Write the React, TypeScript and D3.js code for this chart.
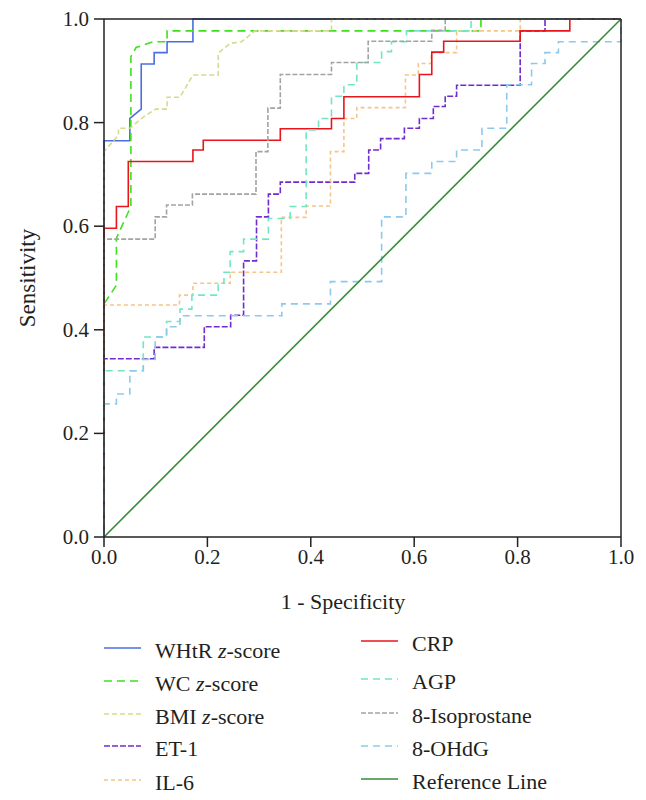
import React from "react";
import * as d3 from "d3";

type P = [number, number];

const whtr: P[] = [[0,0],[0,0.765],[0.05,0.765],[0.05,0.808],[0.072,0.826],[0.072,0.913],[0.097,0.913],[0.097,0.935],[0.122,0.935],[0.122,0.956],[0.172,0.956],[0.172,1],[1,1]];
const wc: P[] = [[0,0],[0,0.45],[0.024,0.486],[0.024,0.577],[0.052,0.638],[0.052,0.927],[0.062,0.945],[0.095,0.956],[0.122,0.956],[0.122,0.977],[0.729,0.977],[0.729,1],[1,1]];
const bmi: P[] = [[0,0],[0,0.744],[0.028,0.776],[0.028,0.789],[0.05,0.789],[0.075,0.81],[0.1,0.826],[0.122,0.826],[0.122,0.849],[0.147,0.849],[0.172,0.892],[0.221,0.892],[0.221,0.934],[0.244,0.953],[0.266,0.956],[0.292,0.977],[0.44,0.977],[0.44,1],[1,1]];
const et1: P[] = [[0,0],[0,0.344],[0.097,0.344],[0.097,0.366],[0.194,0.366],[0.194,0.406],[0.245,0.406],[0.245,0.428],[0.27,0.428],[0.27,0.533],[0.295,0.533],[0.295,0.618],[0.318,0.618],[0.318,0.662],[0.341,0.662],[0.341,0.685],[0.485,0.685],[0.485,0.702],[0.512,0.702],[0.512,0.747],[0.535,0.747],[0.535,0.769],[0.581,0.769],[0.581,0.789],[0.61,0.789],[0.61,0.808],[0.637,0.808],[0.637,0.831],[0.66,0.831],[0.66,0.851],[0.682,0.851],[0.682,0.872],[0.805,0.872],[0.805,0.977],[0.853,0.977],[0.853,1],[1,1]];
const il6: P[] = [[0,0],[0,0.448],[0.146,0.448],[0.146,0.467],[0.172,0.467],[0.172,0.49],[0.244,0.49],[0.244,0.511],[0.343,0.511],[0.343,0.617],[0.391,0.617],[0.391,0.639],[0.438,0.639],[0.438,0.744],[0.464,0.744],[0.464,0.808],[0.489,0.808],[0.489,0.829],[0.583,0.829],[0.583,0.892],[0.608,0.892],[0.608,0.914],[0.633,0.914],[0.633,0.935],[0.682,0.935],[0.682,0.977],[0.805,0.977],[0.805,1],[1,1]];
const crp: P[] = [[0,0],[0,0.596],[0.024,0.596],[0.024,0.638],[0.047,0.638],[0.047,0.725],[0.172,0.725],[0.172,0.747],[0.192,0.747],[0.192,0.766],[0.341,0.766],[0.341,0.788],[0.44,0.788],[0.44,0.808],[0.464,0.808],[0.464,0.85],[0.61,0.85],[0.61,0.893],[0.634,0.893],[0.634,0.936],[0.657,0.936],[0.657,0.957],[0.805,0.957],[0.805,0.977],[0.901,0.977],[0.901,1],[1,1]];
const agp: P[] = [[0,0],[0,0.321],[0.076,0.321],[0.076,0.386],[0.121,0.386],[0.121,0.416],[0.147,0.416],[0.147,0.44],[0.17,0.44],[0.17,0.467],[0.221,0.467],[0.221,0.49],[0.232,0.49],[0.232,0.511],[0.244,0.511],[0.244,0.551],[0.27,0.551],[0.27,0.575],[0.318,0.575],[0.318,0.615],[0.36,0.615],[0.36,0.638],[0.391,0.638],[0.391,0.786],[0.415,0.786],[0.415,0.808],[0.44,0.808],[0.44,0.851],[0.464,0.851],[0.464,0.873],[0.489,0.873],[0.489,0.916],[0.537,0.916],[0.537,0.937],[0.556,0.937],[0.556,0.956],[0.585,0.956],[0.585,0.977],[0.71,0.977],[0.71,1],[1,1]];
const isoprostane: P[] = [[0,0],[0,0.575],[0.099,0.575],[0.099,0.618],[0.121,0.618],[0.121,0.641],[0.171,0.641],[0.171,0.662],[0.294,0.662],[0.294,0.744],[0.317,0.744],[0.317,0.828],[0.341,0.828],[0.341,0.893],[0.44,0.893],[0.44,0.916],[0.511,0.916],[0.511,0.957],[0.634,0.957],[0.634,0.978],[0.66,0.978],[0.66,1],[1,1]];
const ohdg: P[] = [[0,0],[0,0.257],[0.024,0.257],[0.024,0.276],[0.05,0.276],[0.05,0.321],[0.076,0.321],[0.076,0.343],[0.099,0.343],[0.099,0.386],[0.121,0.386],[0.121,0.406],[0.147,0.406],[0.147,0.427],[0.344,0.427],[0.344,0.45],[0.438,0.45],[0.438,0.493],[0.537,0.493],[0.537,0.618],[0.584,0.618],[0.584,0.702],[0.634,0.702],[0.634,0.725],[0.682,0.725],[0.682,0.747],[0.731,0.747],[0.731,0.789],[0.779,0.789],[0.779,0.873],[0.827,0.873],[0.827,0.914],[0.853,0.914],[0.853,0.935],[0.879,0.935],[0.879,0.956],[1,0.956],[1,1]];
const refLine: P[] = [[0,0],[1,1]];

const seriesNames = ["WHtR z-score","WC z-score","BMI z-score","ET-1","IL-6","CRP","AGP","8-Isoprostane","8-OHdG","Reference Line"];
const seriesData = [whtr, wc, bmi, et1, il6, crp, agp, isoprostane, ohdg, refLine];
const seriesColors = ["#4a6ee0","#3fe01e","#d6da8e","#6f2ccf","#f8c487","#e8151c","#72e6c3","#a3a3a3","#8dc9ec","#3a8a3a"];
const seriesDash = ["none","8,5","5,3","6,2","4,3","none","7,5","5,2","7,5","none"];
const xTicks = [0, 0.2, 0.4, 0.6, 0.8, 1.0];
const yTicks = [0, 0.2, 0.4, 0.6, 0.8, 1.0];

const FONT = "'Liberation Serif', 'Times New Roman', serif";
const LABEL_SIZE = 22;

function Label({ name, x, y }: { name: string; x: number; y: number }) {
  const m = name.match(/^(.*) z-score$/);
  if (m) {
    return (
      <text x={x} y={y} fontSize={LABEL_SIZE} fontFamily={FONT} fill="#231f20" dominantBaseline="central">
        {m[1]} <tspan fontStyle="italic">z</tspan>-score
      </text>
    );
  }
  return (
    <text x={x} y={y} fontSize={LABEL_SIZE} fontFamily={FONT} fill="#231f20" dominantBaseline="central">
      {name}
    </text>
  );
}

export default function App() {
  const x = d3.scaleLinear().domain([0, 1]).range([104, 621]);
  const y = d3.scaleLinear().domain([0, 1]).range([537, 19]);
  const line = d3.line<P>().x((d) => x(d[0])).y((d) => y(d[1]));

  const leftRows = [650, 683, 716, 748, 782];
  const rightRows = [643, 681, 715, 748, 781];

  return (
    <svg width={646} height={800} style={{ position: "absolute", left: 0, top: 0, background: "#fff" }}>
      <rect x={0} y={0} width={646} height={800} fill="#fff" />
      {seriesData.map((d, i) => (
        <path key={i} d={line(d) || ""} fill="none" stroke={seriesColors[i]} strokeWidth={1.6}
          strokeDasharray={seriesDash[i]} />
      ))}
      <line x1={x(0)} x2={x(1)} y1={y(1)} y2={y(1)} stroke="#222" strokeWidth={1.5} />
      <line x1={x(1)} x2={x(1)} y1={y(0)} y2={y(1)} stroke="#222" strokeWidth={1.5} />
      <line x1={x(0)} x2={x(1)} y1={y(0)} y2={y(0)} stroke="#222" strokeWidth={1.5} />
      <line x1={x(0)} x2={x(0)} y1={y(0)} y2={y(1)} stroke="#222" strokeWidth={1.5} />
      {xTicks.map((t) => (
        <g key={"x" + t}>
          <line x1={x(t)} x2={x(t)} y1={y(0)} y2={y(0) + 10} stroke="#222" strokeWidth={1.5} />
          <text x={x(t)} y={y(0) + 27} textAnchor="middle" fontSize={21} fontFamily={FONT} fill="#231f20">
            {d3.format(".1f")(t)}
          </text>
        </g>
      ))}
      {yTicks.map((t) => (
        <g key={"y" + t}>
          <line x1={x(0) - 10} x2={x(0)} y1={y(t)} y2={y(t)} stroke="#222" strokeWidth={1.5} />
          <text x={x(0) - 15} y={y(t)} textAnchor="end" dominantBaseline="central" fontSize={21} fontFamily={FONT} fill="#231f20">
            {d3.format(".1f")(t)}
          </text>
        </g>
      ))}
      <text x={343} y={609} textAnchor="middle" fontSize={LABEL_SIZE} fontFamily={FONT} fill="#231f20">
        1 - Specificity
      </text>
      <text transform={`translate(27,${(y(0) + y(1)) / 2}) rotate(-90)`} textAnchor="middle" dominantBaseline="central" fontSize={23} fontFamily={FONT} fill="#231f20">
        Sensitivity
      </text>
      {seriesNames.map((name, i) => {
        const col = i < 5 ? 0 : 1;
        const row = i % 5;
        const ly = col === 0 ? leftRows[row] : rightRows[row];
        const lx = col === 0 ? 104 : 361;
        return (
          <g key={name}>
            <line x1={lx} x2={lx + 37} y1={ly - 2} y2={ly - 2} stroke={seriesColors[i]} strokeWidth={1.6} strokeDasharray={seriesDash[i]} />
            <Label name={name} x={lx + 51} y={ly} />
          </g>
        );
      })}
    </svg>
  );
}
